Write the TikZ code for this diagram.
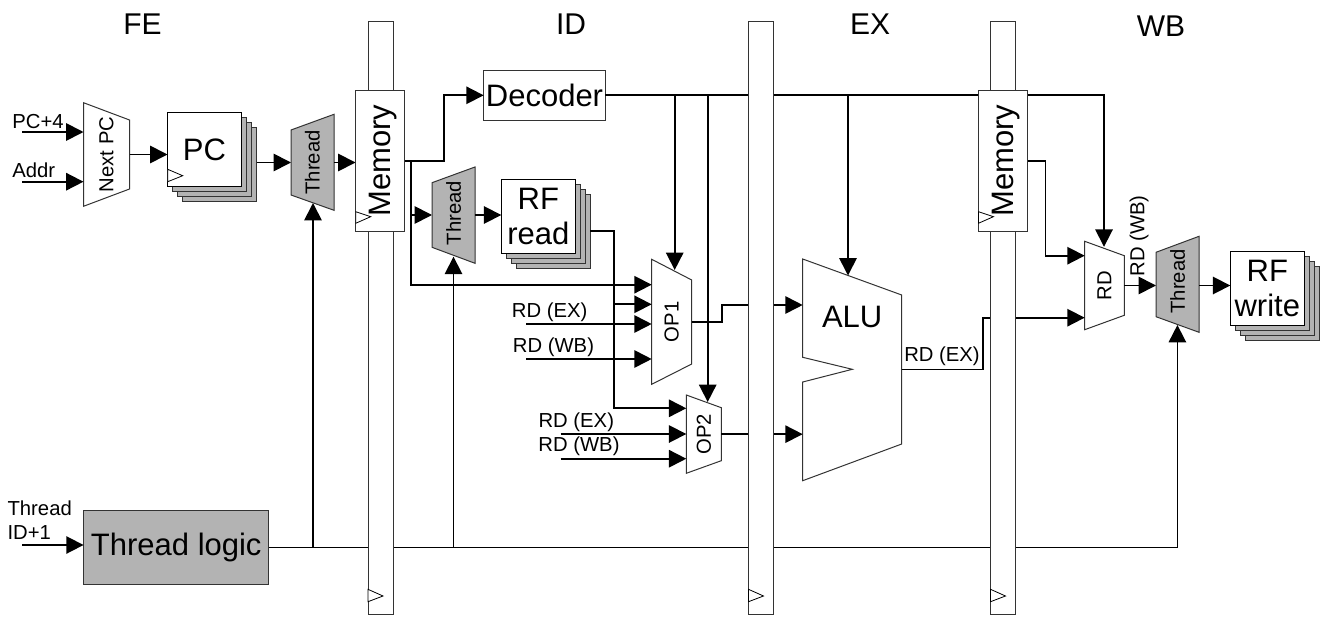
\documentclass[tikz,border=0pt]{standalone}
\usepackage{fontspec}
\setmainfont{Liberation Sans}
\usetikzlibrary{arrows.meta,calc}
\pgfdeclarelayer{blocks}
\pgfdeclarelayer{wires}
\pgfsetlayers{blocks,wires,main}
\definecolor{shade}{HTML}{B3B3B3}
\definecolor{edge}{HTML}{333333}
\newcommand\fsmall{\fontsize{15.2pt}{17.5pt}\selectfont}
\newcommand\fbig{\fontsize{23.25pt}{26.25pt}\selectfont}
\newcommand\fhead{\fontsize{22.5pt}{26pt}\selectfont}
\tikzset{
  outline/.style={draw=edge,line width=0.75pt,line join=miter},
  ghostbox/.style={inner sep=0pt,outer sep=0pt,align=center},
  wire/.style={draw=black,line width=1.3pt,line join=miter},
  sig/.style={wire,-{Triangle[length=13pt,width=13pt]}},
  clock/.style={draw=black,line width=0.6pt,fill=white},
  lab/.style={inner sep=0pt,outer sep=0pt,font=\fsmall,align=left},
  head/.style={inner sep=0pt,outer sep=0pt,font=\fhead},
  regbar/.style={outline,fill=white,inner sep=0pt,outer sep=0pt,minimum width=18.75pt,minimum height=444pt},
  membox/.style={outline,fill=white,inner sep=0pt,outer sep=0pt,minimum width=37pt,minimum height=105.75pt,font=\fbig},
}
% name, x1, x2, left-top, left-bottom, right-top, right-bottom, fill, text
\newcommand\trapnode[9]{%
  \begin{pgfonlayer}{blocks}
  \draw[outline,fill=#8] (#2,#4) -- (#3,#6) -- (#3,#7) -- (#2,#5) -- cycle;
  \pgfmathsetmacro\cxv{(#2+#3)/2}\pgfmathsetmacro\cyv{(#4+#5)/2}%
  \pgfmathsetmacro\wv{(#3-#2)*0.75}\pgfmathsetmacro\hv{(#5-#4)*0.75}%
  \node[ghostbox,font=\fsmall,minimum width=\wv pt,minimum height=\hv pt] (#1) at (\cxv,\cyv) {\rotatebox{90}{#9}};
  \end{pgfonlayer}}
% name, x1, y1, x2, y2, text
\newcommand\stacknode[6]{%
  \begin{pgfonlayer}{blocks}
  \pgfmathsetmacro\wv{(#4-#2)*0.75}\pgfmathsetmacro\hv{(#5-#3)*0.75}%
  \node[outline,fill=shade,inner sep=0pt,outer sep=0pt,minimum width=\wv pt,minimum height=\hv pt,anchor=north west] (#1back) at (#2+15,#3+15) {};
  \draw[outline,fill=shade] (#2+10,#3+10) rectangle (#4+10,#5+10);
  \draw[outline,fill=shade] (#2+5,#3+5) rectangle (#4+5,#5+5);
  \node[draw=black,line width=0.75pt,fill=white,inner sep=0pt,outer sep=0pt,minimum width=\wv pt,minimum height=\hv pt,anchor=north west,font=\fbig,align=center] (#1) at (#2,#3) {#6};
  \end{pgfonlayer}}
\begin{document}
\begin{tikzpicture}[x=0.75pt,y=-0.75pt]
\useasboundingbox (0,0) rectangle (1327,617);

% stage headings
\node[head] (fe) at (142.5,24) {FE};
\node[head] (id) at (571,24) {ID};
\node[head] (ex) at (870,24) {EX};
\node[head] (wb) at (1161,26) {WB};

% combinational blocks
\trapnode{nextpc}{83.5}{129.5}{102.7}{206.3}{120}{189}{white}{Next PC}
\trapnode{thra}{291}{334}{130}{195}{114.3}{210.3}{shade}{Thread}
\trapnode{thrb}{432}{475}{182.7}{247.3}{167}{263.3}{shade}{\hspace*{3pt}Thread}
\trapnode{thrc}{1156}{1199}{252.3}{316.7}{236.3}{332.3}{shade}{\hspace*{4.5pt}Thread}
\trapnode{opa}{651.7}{691.7}{259.3}{384.3}{280}{364}{white}{OP1}
\trapnode{opb}{686.3}{721.3}{395}{473.3}{407.7}{460.7}{white}{OP2}
\trapnode{rdmux}{1084.7}{1124.3}{241.3}{329.7}{255.7}{315.3}{white}{RD}
\stacknode{pc}{167.5}{112.3}{241.5}{186.7}{PC}
\stacknode{rfr}{501.3}{179.3}{575.3}{253.3}{RF\\read}
\stacknode{rfw}{1230.3}{251}{1304.3}{325.3}{RF\\write}
\begin{pgfonlayer}{blocks}
\draw[clock] (167.7,169.3) -- (182.7,175.7) -- (167.7,181.7) -- cycle;
\draw[outline,fill=white] (802.7,259) -- (901.7,295) -- (901.7,444) -- (802.7,480.7) -- (802.7,382) -- (852.3,369.3) -- (802.7,357.3) -- cycle;
\node[ghostbox,font=\fbig,minimum width=74.25pt,minimum height=15pt] (alu) at (852.2,317) {ALU};
\node[outline,fill=white,inner sep=0pt,outer sep=0pt,minimum width=91.2pt,minimum height=37.5pt,font=\fbig] (dec) at (544.5,95.3) {Decoder};
\node[outline,fill=shade,inner sep=0pt,outer sep=0pt,minimum width=139pt,minimum height=55.8pt,font=\fbig] (tlogic) at (176.25,547.5) {Thread logic};
\end{pgfonlayer}

% pipeline registers
\node[regbar] (rega) at (380.5,318) {};
\node[regbar] (regb) at (761,318) {};
\node[regbar] (regc) at (1003,318) {};
\draw[clock] (368,589.3) -- (383,596) -- (368,601.7) -- cycle;
\draw[clock] (748.5,589.3) -- (763.5,596) -- (748.5,601.7) -- cycle;
\draw[clock] (990.5,589.3) -- (1005.5,596) -- (990.5,601.7) -- cycle;

% memories
\node[membox] (mema) at (380.2,160.8) {\hspace*{4.5pt}\rotatebox{90}{Memory}};
\node[membox] (memb) at (1002.8,160.8) {\hspace*{4.5pt}\rotatebox{90}{Memory}};
\draw[clock] (355.7,211.7) -- (370.7,216.7) -- (355.7,223.3) -- cycle;
\draw[clock] (978.4,211.7) -- (993.4,216.7) -- (978.4,223.3) -- cycle;

% text labels
\node[lab] (lpc) at (38,122) {PC+4};
\node[lab] (laddr) at (33.7,170) {Addr};
\node[lab] (ltid) at (39.7,520) {Thread\\ID+1};
\node[lab] (lexa) at (549.7,312.5) {RD (EX)};
\node[lab] (lwba) at (553.5,347) {RD (WB)};
\node[lab] (lexb) at (576.3,422.5) {RD (EX)};
\node[lab] (lwbb) at (579,446.7) {RD (WB)};
\node[lab] (lexc) at (942,356) {RD (EX)};
\node[lab] (lwbc) at (1139,236) {\rotatebox{90}{RD (WB)}};

% free ends and junctions
\coordinate (inpc) at (22,132);
\coordinate (inaddr) at (22,181.7);
\coordinate (intid) at (22,545);
\coordinate (inexa) at (526,324);
\coordinate (inwba) at (526,359);
\coordinate (inexb) at (560.7,434);
\coordinate (inwbb) at (560.7,458.7);
\coordinate (jmem) at (411,160.8);
\coordinate (jrf) at (614,304.3);

\begin{pgfonlayer}{wires}
\draw[sig] (inpc) -- (inpc -| nextpc.west);
\draw[sig] (inaddr) -- (inaddr -| nextpc.west);
\draw[sig] (intid) -- (intid -| tlogic.west);
\draw[sig] (nextpc.east) -- (nextpc.east -| pc.west);
\draw[sig] (pcback.east |- 0,162.5) -- (thra.west);
\draw[sig] (thra.east) -- (thra.east -| mema.west);
\draw[sig] (mema.east) -- ++(39,0) |- (dec.west);
\draw[wire] (mema.east) -- (jmem);
\draw[sig] (jmem) |- (opa.west |- 0,284.7);
\draw[sig] (jmem |- thrb.west) -- (thrb.west);
\draw[sig] (thrb.east) -- (thrb.east -| rfr.west);
\draw[sig] (rfrback.east |- 0,231) -| (jrf) |- (opb.west |- 0,408.3);
\draw[sig] (jrf) -- (opa.west |- jrf);
\draw[sig] (inexa) -- (inexa -| opa.west);
\draw[sig] (inwba) -- (inwba -| opa.west);
\draw[sig] (inexb) -- (inexb -| opb.west);
\draw[sig] (inwbb) -- (inwbb -| opb.west);
\draw[wire] (dec.east) -- (memb.west |- dec.east);
\draw[sig] (memb.east |- dec.east) -| (1104,246.8);
\draw[sig] (674.7,95.3) -- (674.7,270);
\draw[sig] (707.7,95.3) -- (707.7,402);
\draw[sig] (848,95.3) -- (848,275.5);
\draw[wire] (opa.east) -- (722,321.8) |- (regb.west |- 0,305);
\draw[sig] (regb.east |- 0,305) -- (alu.west |- 0,305);
\draw[wire] (opb.east) -- (regb.west |- opb.east);
\draw[sig] (regb.east |- opb.east) -- (alu.west |- opb.east);
\draw[wire] (alu.east |- 0,369.5) -- (983,369.5) |- (regc.west |- 0,317.7);
\draw[sig] (regc.east |- 0,317.7) -- (rdmux.west |- 0,317.7);
\draw[sig] (memb.east) -- ++(18,0) |- (rdmux.west |- 0,255.7);
\draw[sig] (rdmux.east) -- (thrc.west |- rdmux.east);
\draw[sig] (thrc.east |- rdmux.east) -- (rfw.west |- rdmux.east);
\draw[sig] (tlogic.east) -| (1177.4,325);
\draw[sig] (313,547.5) -- (313,203);
\draw[sig] (453.5,547.5) -- (453.5,256.7);
\end{pgfonlayer}
\end{tikzpicture}
\end{document}
